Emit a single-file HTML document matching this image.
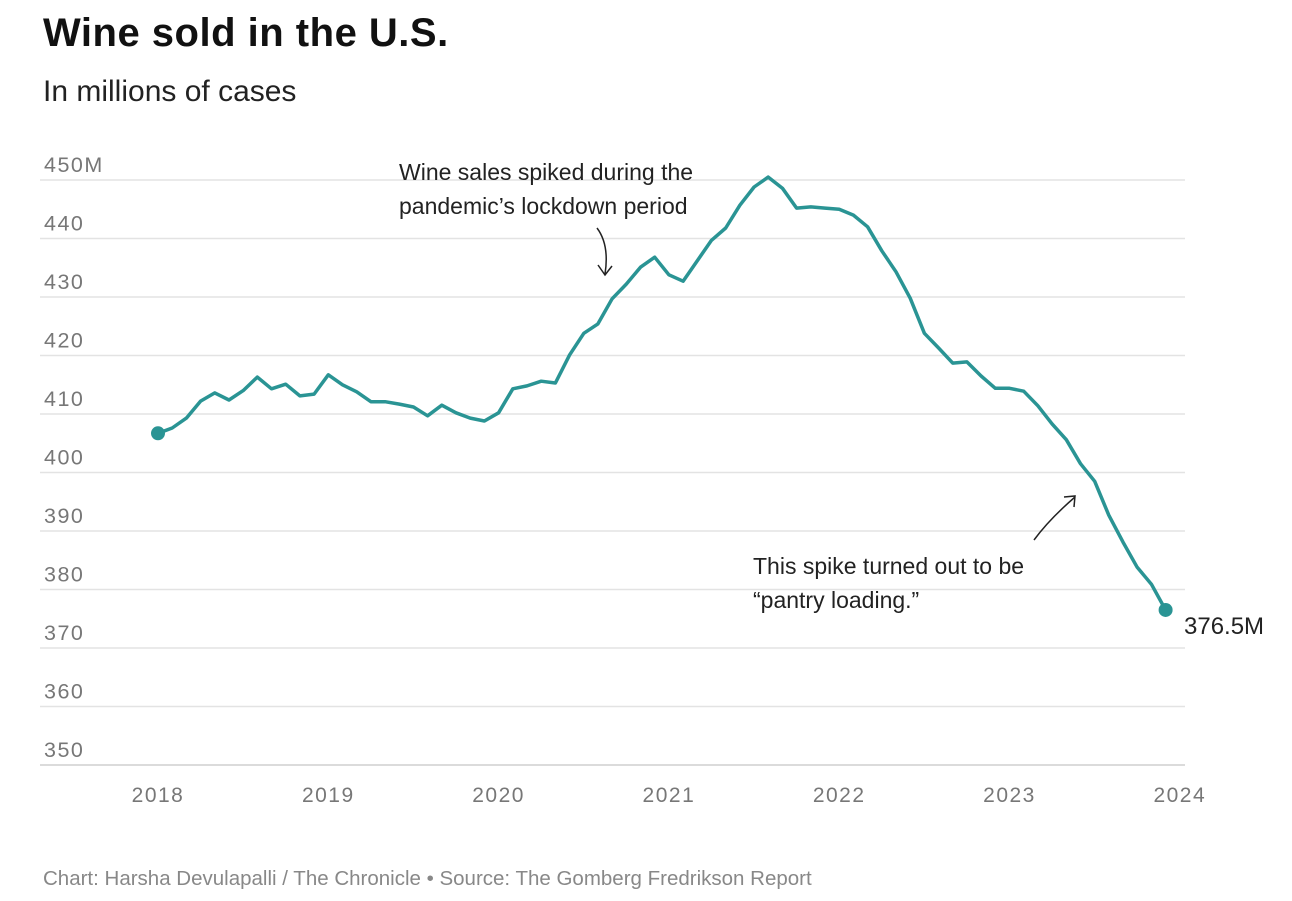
<!DOCTYPE html>
<html><head><meta charset="utf-8"><style>
body{margin:0;background:#fff;width:1292px;height:896px;overflow:hidden;font-family:"Liberation Sans",sans-serif;}
</style></head><body>
<svg width="1292" height="896" xmlns="http://www.w3.org/2000/svg">
<text x="43" y="46" font-size="40" font-weight="bold" fill="#111" letter-spacing="0.5">Wine sold in the U.S.</text>
<text x="43" y="101" font-size="30" fill="#222">In millions of cases</text>
<g id="grid"></g><g id="xaxis"></g>
<path id="line" fill="none" stroke="#2a9494" stroke-width="3.5" stroke-linejoin="round"/>
<g id="dots"></g>
<text x="399" y="180" font-size="23" fill="#222"><tspan x="399">Wine sales spiked during the</tspan><tspan x="399" dy="34">pandemic’s lockdown period</tspan></text>
<path d="M597,228 C606,240 608,255 605,274 M598,265 L605,275 L612,266" fill="none" stroke="#222" stroke-width="1.5"/>
<text x="753" y="574" font-size="23" fill="#222"><tspan x="753">This spike turned out to be</tspan><tspan x="753" dy="34">“pantry loading.”</tspan></text>
<path d="M1034,540 C1045,525 1060,510 1075,497 M1064,497 L1075,496 L1074,507" fill="none" stroke="#222" stroke-width="1.5"/>
<text x="1184" y="634" font-size="24" fill="#222">376.5M</text>
<text x="43" y="885" font-size="20.5" fill="#888">Chart: Harsha Devulapalli / The Chronicle • Source: The Gomberg Fredrikson Report</text>
</svg>
<script>
const yTicks=[450,440,430,420,410,400,390,380,370,360,350];
const yTickLabels=["450M","440","430","420","410","400","390","380","370","360","350"];
const xYears=[2018,2019,2020,2021,2022,2023,2024];
const values=[406.7,407.6,409.3,412.2,413.6,412.4,414,416.3,414.3,415.1,413.1,413.4,
416.7,415,413.8,412.1,412.1,411.7,411.2,409.7,411.5,410.2,409.3,408.8,
410.2,414.3,414.8,415.6,415.3,420.1,423.8,425.4,429.7,432.2,435.1,436.8,
433.8,432.7,436.2,439.7,441.8,445.7,448.8,450.5,448.6,445.2,445.4,445.2,
445.0,444,442,437.9,434.3,429.8,423.8,421.3,418.7,418.9,416.5,414.4,
414.4,413.9,411.4,408.3,405.6,401.5,398.5,392.7,388.1,383.8,380.9,376.5];
const NS="http://www.w3.org/2000/svg";
const y=v=>180+(450-v)*5.85;
const x=t=>158+(t-2018)*170.3;
const grid=document.getElementById('grid');
yTicks.forEach((v,i)=>{
 const l=document.createElementNS(NS,'line');
 l.setAttribute('x1',40);l.setAttribute('x2',1185);l.setAttribute('y1',y(v));l.setAttribute('y2',y(v));
 l.setAttribute('stroke',i==yTicks.length-1?'#cfcfcf':'#e3e3e3');l.setAttribute('stroke-width',1.5);
 
 
 grid.appendChild(l);
 const t=document.createElementNS(NS,'text');
 t.setAttribute('x',44);t.setAttribute('y',y(v)-8);t.setAttribute('font-size',21.5);t.setAttribute('fill','#777');t.setAttribute('letter-spacing','1.5');
 t.textContent=yTickLabels[i];
 
 
 grid.appendChild(t);
});
const xa=document.getElementById('xaxis');
xYears.forEach(yr=>{
 const t=document.createElementNS(NS,'text');
 t.setAttribute('x',x(yr));t.setAttribute('y',802);t.setAttribute('font-size',21);t.setAttribute('fill','#777');t.setAttribute('text-anchor','middle');t.setAttribute('letter-spacing','1.5');
 t.textContent=yr;
 
 
 xa.appendChild(t);
});
const pts=values.map((v,i)=>[x(2018+i/12),y(v)]);
document.getElementById('line').setAttribute('d','M'+pts.map(p=>p[0].toFixed(1)+','+p[1].toFixed(1)).join('L'));
const dots=document.getElementById('dots');
[pts[0],pts[pts.length-1]].forEach((p,k)=>{
 const c=document.createElementNS(NS,'circle');
 c.setAttribute('cx',p[0]);c.setAttribute('cy',p[1]);c.setAttribute('r',7);c.setAttribute('fill','#2a9494');
 
 
 dots.appendChild(c);
});
</script>
</body></html>
